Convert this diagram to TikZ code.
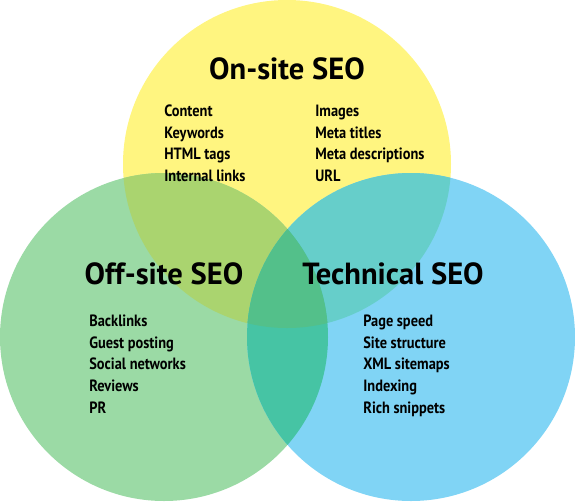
\documentclass[tikz,border=0pt]{standalone}
\usepackage{fontspec}
\setmainfont{PT Sans}
\newfontfamily\itemfont[FakeStretch=0.88]{PT Sans}
\usepackage{xcolor}

\definecolor{onsite}{RGB}{255,245,128}
\definecolor{offsite}{RGB}{155,218,165}
\definecolor{technical}{RGB}{128,212,245}
\definecolor{onoff}{RGB}{170,212,111}
\definecolor{ontech}{RGB}{102,206,202}
\definecolor{offtech}{RGB}{70,196,164}
\definecolor{allthree}{RGB}{83,192,138}

\tikzset{
  title/.style={font=\bfseries\fontsize{17.4}{20}\selectfont, anchor=base, inner sep=0pt},
  item/.style={font=\itemfont\bfseries\fontsize{9.3}{10}\selectfont, anchor=base west, inner sep=0pt}
}

\begin{document}
\begin{tikzpicture}[x=0.02cm,y=-0.02cm]
    \def\rad{164}
    \useasboundingbox (0,0) rectangle (575,501);
    \coordinate (on)   at (287,164);
    \coordinate (off)  at (164,337);
    \coordinate (tech) at (411,337);

    % the three circles
    \fill[onsite]    (on)   circle (\rad);
    \fill[offsite]   (off)  circle (\rad);
    \fill[technical] (tech) circle (\rad);

    % overlaps
    \begin{scope}
        \clip (on) circle (\rad);
        \fill[onoff] (off) circle (\rad);
        \fill[ontech] (tech) circle (\rad);
    \end{scope}
    \begin{scope}
        \clip (off) circle (\rad);
        \fill[offtech] (tech) circle (\rad);
        \clip (on) circle (\rad);
        \fill[allthree] (tech) circle (\rad);
    \end{scope}

    % titles
    \node[title] (ontitle)   at (287,79)  {On-site SEO};
    \node[title] (offtitle)  at (164,284) {Off-site SEO};
    \node[title] (techtitle) at (393,284) {Technical SEO};

    % lists
    \foreach \t [count=\i] in {Content,Keywords,HTML tags,Internal links}
        \node[item] (onl\i) at (164,{94.5+21.8*\i}) {\t};
    \foreach \t [count=\i] in {Images,Meta titles,Meta descriptions,URL}
        \node[item] (onr\i) at (315,{94.5+21.8*\i}) {\t};
    \foreach \t [count=\i] in {Backlinks,Guest posting,Social networks,Reviews,PR}
        \node[item] (offl\i) at (89,{304.5+21.8*\i}) {\t};
    \foreach \t [count=\i] in {Page speed,Site structure,XML sitemaps,Indexing,Rich snippets}
        \node[item] (techl\i) at (363,{304.5+21.8*\i}) {\t};
\end{tikzpicture}
\end{document}
